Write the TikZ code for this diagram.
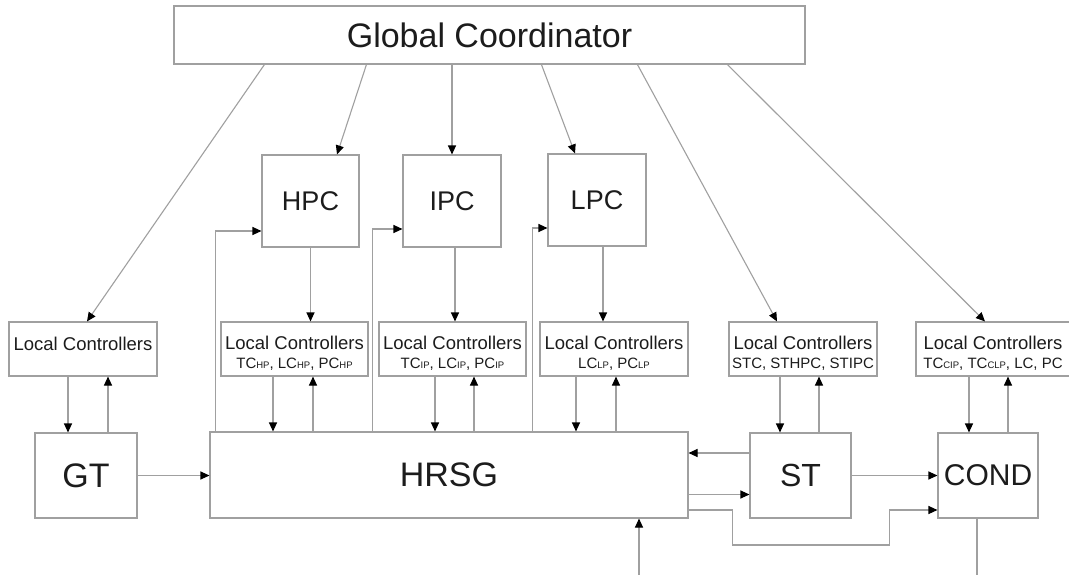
\documentclass[tikz,border=0pt]{standalone}
\usepackage{fontspec}
\setmainfont{Liberation Sans}
\usetikzlibrary{arrows.meta,calc}
\definecolor{linec}{RGB}{160,160,160}
\definecolor{txt}{RGB}{28,28,28}
\newcommand\lcsub[1]{{\fontsize{9.5}{10}\selectfont #1}}
\begin{document}
\begin{tikzpicture}[x=1pt,y=-1pt,
  ln/.style={draw=linec, line width=1.1pt},
  arr/.style={ln, -{Triangle[length=9pt,width=8pt,color=black]}},
  box/.style={draw=linec, line width=1.1pt, fill=white, inner sep=0pt, text=txt},
  bigf/.style={font=\fontsize{34}{40}\selectfont},
  midf/.style={font=\fontsize{27}{32}\selectfont},
  lcbox/.style={box, minimum width=147pt, minimum height=54pt},
  lct/.style={anchor=base, text=txt, inner sep=0pt, font=\fontsize{18.5}{22}\selectfont},
  lcs/.style={anchor=base, text=txt, inner sep=0pt, font=\fontsize{15}{18}\selectfont}]
\clip (0,0) rectangle (1069,574);
\fill[white] (0,0) rectangle (1069,574);

% top
\node[box, bigf, minimum width=631pt, minimum height=58pt] (gc) at (489.5,35) {Global Coordinator};
\node[box, midf, minimum width=97pt, minimum height=92pt] (hpc) at (310.5,201) {HPC};
\node[box, midf, minimum width=98pt, minimum height=92pt] (ipc) at (452,201) {IPC};
\node[box, midf, minimum width=98pt, minimum height=92pt] (lpc) at (597,200) {LPC};

% local controllers
\node[lcbox, minimum width=148pt] (lc0) at (83,349) {};
\node[lcbox] (lchp) at (294.5,349) {};
\node[lcbox] (lcip) at (452.5,349) {};
\node[lcbox, minimum width=148pt] (lclp) at (614,349) {};
\node[lcbox, minimum width=148pt] (lcst) at (803,349) {};
\node[lcbox, minimum width=154pt] (lccond) at (993,349) {};

\node[lct] (lc0t) at (83,350) {Local Controllers};
\node[lct] (lchpt) at (294.5,349.5) {Local Controllers};
\node[lcs] (lchps) at (294.5,368) {TC\lcsub{HP}, LC\lcsub{HP}, PC\lcsub{HP}};
\node[lct] (lcipt) at (452.5,349.5) {Local Controllers};
\node[lcs] (lcips) at (452.5,368) {TC\lcsub{IP}, LC\lcsub{IP}, PC\lcsub{IP}};
\node[lct] (lclpt) at (614,349.5) {Local Controllers};
\node[lcs] (lclps) at (614,368) {LC\lcsub{LP}, PC\lcsub{LP}};
\node[lct] (lcstt) at (803,349.5) {Local Controllers};
\node[lcs] (lcsts) at (803,368) {STC, STHPC, STIPC};
\node[lct] (lccondt) at (993,349.5) {Local Controllers};
\node[lcs] (lcconds) at (993,368) {TC\lcsub{CIP}, TC\lcsub{CLP}, LC, PC};

% plant blocks
\node[box, bigf, minimum width=102pt, minimum height=85pt] (gt) at (86,475.5) {GT};
\node[box, bigf, minimum width=478pt, minimum height=86pt] (hrsg) at (449,475) {HRSG};
\node[box, font=\fontsize{32}{38}\selectfont, minimum width=101pt, minimum height=85pt] (st) at (800.5,475.5) {ST};
\node[box, font=\fontsize{30}{36}\selectfont, minimum width=100pt, minimum height=85pt] (cond) at (988,475.5) {COND};

% coordinator links
\draw[arr] ([xshift=91pt]gc.south west) -- ([xshift=4pt]lc0.north);
\draw[arr] ([xshift=193pt]gc.south west) -- ([xshift=26.5pt]hpc.north);
\draw[arr] (ipc.north |- gc.south) -- (ipc.north);
\draw[arr] ([xshift=368pt]gc.south west) -- ([xshift=-22pt]lpc.north);
\draw[arr] ([xshift=464pt]gc.south west) -- ([xshift=-26pt]lcst.north);
\draw[arr] ([xshift=554pt]gc.south west) -- ([xshift=-8pt]lccond.north);

% supervisors to local controllers
\draw[arr] (hpc.south) -- (hpc.south |- lchp.north);
\coordinate (ip1) at ([xshift=3pt]ipc.south);
\draw[arr] (ip1) -- (ip1 |- lcip.north);
\coordinate (lp1) at ([xshift=6pt]lpc.south);
\draw[arr] (lp1) -- (lp1 |- lclp.north);

% local controllers <-> plant
\coordinate (d0) at ([xshift=-15pt]lc0.south);
\coordinate (u0) at ([xshift=25pt]lc0.south);
\draw[arr] (d0) -- (d0 |- gt.north);
\draw[arr] (u0 |- gt.north) -- (u0);
\coordinate (d1) at ([xshift=-21.5pt]lchp.south);
\coordinate (u1) at ([xshift=18.5pt]lchp.south);
\draw[arr] (d1) -- (d1 |- hrsg.north);
\draw[arr] (u1 |- hrsg.north) -- (u1);
\coordinate (d2) at ([xshift=-17.5pt]lcip.south);
\coordinate (u2) at ([xshift=21.5pt]lcip.south);
\draw[arr] (d2) -- (d2 |- hrsg.north);
\draw[arr] (u2 |- hrsg.north) -- (u2);
\coordinate (d3) at ([xshift=-38pt]lclp.south);
\coordinate (u3) at ([xshift=2pt]lclp.south);
\draw[arr] (d3) -- (d3 |- hrsg.north);
\draw[arr] (u3 |- hrsg.north) -- (u3);
\coordinate (d4) at ([xshift=-23pt]lcst.south);
\coordinate (u4) at ([xshift=16pt]lcst.south);
\draw[arr] (d4) -- (d4 |- st.north);
\draw[arr] (u4 |- st.north) -- (u4);
\coordinate (d5) at ([xshift=-24pt]lccond.south);
\coordinate (u5) at ([xshift=15pt]lccond.south);
\draw[arr] (d5) -- (d5 |- cond.north);
\draw[arr] (u5 |- cond.north) -- (u5);

% HRSG feedback to supervisors
\draw[arr] ([xshift=6pt]hrsg.north west) |- ([yshift=-30pt]hpc.west);
\draw[arr] ([xshift=163pt]hrsg.north west) |- ([yshift=-28pt]ipc.west);
\draw[arr] ([xshift=323pt]hrsg.north west) |- ([yshift=-28pt]lpc.west);

% plant flows
\draw[arr] (gt.east) -- (gt.east -| hrsg.west);
\coordinate (s1) at ([yshift=22.5pt]st.west);
\draw[arr] (s1) -- (s1 -| hrsg.east);
\coordinate (s2) at ([yshift=-19.5pt]hrsg.east);
\draw[arr] (s2) -- (s2 -| st.west);
\draw[arr] (st.east) -- (cond.west);
\coordinate (h1) at ([yshift=-35pt]hrsg.east);
\draw[arr] (h1) -- ++(44,0) -- ++(0,35) -- ++(157,0) |- (h1 -| cond.west);
\coordinate (inb) at (639,580);
\draw[arr] (inb) -- (inb |- hrsg.south);
\coordinate (outc) at (977,580);
\draw[ln] (outc |- cond.south) -- (outc);
\end{tikzpicture}
\end{document}
